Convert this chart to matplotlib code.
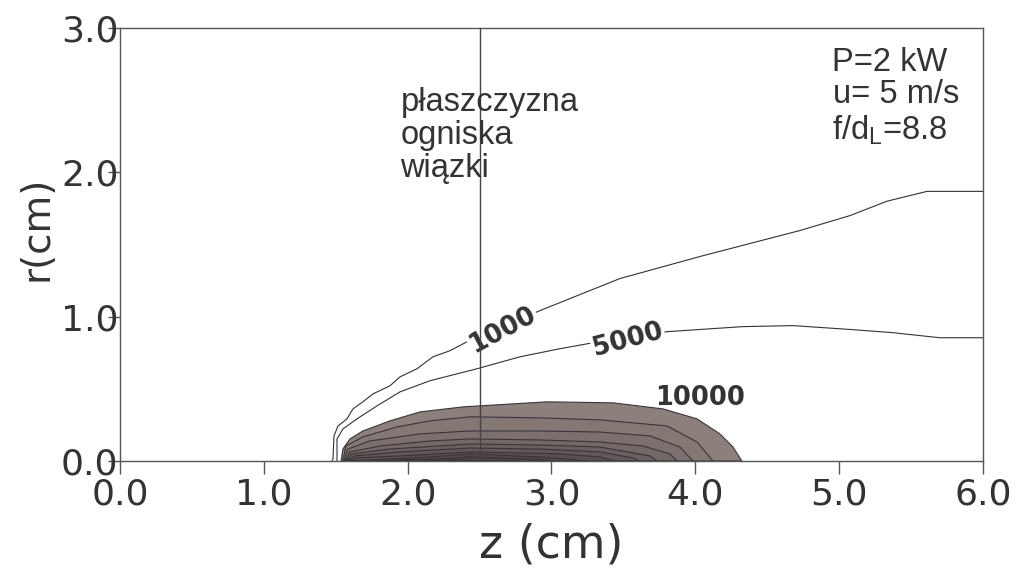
import matplotlib.pyplot as plt

plt.rcParams['font.family'] = 'DejaVu Sans'

# kontury temperatury (z, r) w cm
z_1000 = [1.474, 1.481, 1.488, 1.516, 1.578, 1.620, 1.689, 1.759, 1.877, 1.947, 2.065,
          2.176, 2.294, 2.413, 2.920, 3.476, 4.033, 4.728, 5.075, 5.333, 5.611, 6.0]
r_1000 = [0.0, 0.014, 0.174, 0.243, 0.292, 0.361, 0.410, 0.465, 0.521, 0.583, 0.639,
          0.722, 0.764, 0.826, 1.042, 1.264, 1.417, 1.597, 1.700, 1.800, 1.868, 1.868]

z_5000 = [1.509, 1.509, 1.550, 1.648, 1.787, 1.947, 2.155, 2.482, 2.781, 3.059, 3.254,
          3.803, 4.331, 4.679, 5.096, 5.374, 5.701, 6.0]
r_5000 = [0.0, 0.153, 0.222, 0.292, 0.382, 0.479, 0.556, 0.639, 0.722, 0.778, 0.813,
          0.896, 0.931, 0.938, 0.910, 0.889, 0.854, 0.854]

# obszar > 10000, kolejne poziomy od zewnatrz do srodka
z_levels = [
    [1.537, 1.550, 1.599, 1.689, 1.877, 2.086, 2.385, 2.969, 3.428, 3.775, 4.012, 4.171, 4.262, 4.324],
    [1.550, 1.571, 1.689, 1.926, 2.155, 2.433, 2.920, 3.337, 3.803, 4.012, 4.123],
    [1.557, 1.585, 1.738, 2.086, 2.433, 2.920, 3.337, 3.685, 3.893, 3.984],
    [1.564, 1.599, 1.808, 2.155, 2.433, 2.920, 3.337, 3.636, 3.824, 3.873],
    [1.571, 1.613, 1.877, 2.433, 2.920, 3.337, 3.685, 3.734],
    [1.578, 1.627, 1.947, 2.433, 2.920, 3.337, 3.567, 3.615],
    [1.585, 1.641, 2.086, 2.433, 3.059, 3.337, 3.442],
    [1.592, 2.155, 2.433, 2.920, 3.268],
    [1.599, 2.225, 2.433, 2.851, 3.059],
    [1.613, 2.294, 2.781],
]
r_levels = [
    [0.0, 0.083, 0.153, 0.208, 0.278, 0.340, 0.375, 0.410, 0.403, 0.361, 0.292, 0.188, 0.097, 0.0],
    [0.0, 0.104, 0.167, 0.236, 0.278, 0.306, 0.299, 0.285, 0.243, 0.132, 0.0],
    [0.0, 0.083, 0.139, 0.188, 0.208, 0.208, 0.201, 0.174, 0.097, 0.0],
    [0.0, 0.063, 0.104, 0.139, 0.153, 0.146, 0.132, 0.104, 0.049, 0.0],
    [0.0, 0.049, 0.083, 0.118, 0.111, 0.097, 0.035, 0.0],
    [0.0, 0.035, 0.063, 0.090, 0.083, 0.063, 0.021, 0.0],
    [0.0, 0.021, 0.042, 0.063, 0.049, 0.028, 0.0],
    [0.0, 0.028, 0.049, 0.028, 0.0],
    [0.0, 0.014, 0.028, 0.014, 0.0],
    [0.0, 0.007, 0.0],
]
fill_colors = ['#8c807d', '#847875', '#7c706e', '#736867', '#6b605f',
               '#635859', '#5a5052', '#52494b', '#4a4245', '#423b3e']

z_focus = 2.5
ticks = [0.0, 1.0, 2.0, 3.0, 4.0, 5.0, 6.0]
rticks = [0.0, 1.0, 2.0, 3.0]

txt = '#333333'
fig = plt.figure(figsize=(10.2, 5.78), dpi=100)
ax = fig.add_axes([0.1176, 0.2024, 0.8461, 0.7492])

for zs, rs, c in zip(z_levels, r_levels, fill_colors):
    ax.fill(zs, rs, facecolor=c, edgecolor='#3a3436', lw=0.8, zorder=1)

ax.plot(z_1000, r_1000, color='#333333', lw=0.8, zorder=2)
ax.plot(z_5000, r_5000, color='#333333', lw=0.8, zorder=2)

lab = dict(fontsize=18.5, fontweight='bold', color=txt, ha='center', va='center', zorder=3)
ax.text(2.663, 0.908, '1000', rotation=28,
        bbox=dict(facecolor='white', edgecolor='none', pad=1), **lab)
ax.text(3.532, 0.838, '5000', rotation=15,
        bbox=dict(facecolor='white', edgecolor='none', pad=1), **lab)
ax.text(4.033, 0.437, '10000', **lab)

ax.axvline(z_focus, color='#444444', lw=1.0, zorder=4)

sans = 'Liberation Sans'
ax.text(1.95, 2.59, 'płaszczyzna\nogniska\nwiązki', family=sans, fontsize=23.5,
        color=txt, va='top', ha='left', linespacing=1.08, zorder=5)
ax.text(4.95, 2.70, 'P=2 kW', family=sans, fontsize=23.5, color=txt, ha='left', va='baseline')
ax.text(4.96, 2.48, 'u= 5 m/s', family=sans, fontsize=23.5, color=txt, ha='left', va='baseline')
plt.rcParams['mathtext.fontset'] = 'custom'
plt.rcParams['mathtext.rm'] = sans
ax.text(4.95, 2.23, r'f/d$_\mathrm{L}$=8.8', family=sans, fontsize=23.5, color=txt,
        ha='left', va='baseline')

ax.set_xlim(0, 6)
ax.set_ylim(0, 3)
ax.set_xticks(ticks)
ax.set_xticklabels([f'{t:.1f}' for t in ticks])
ax.set_yticks(rticks)
ax.set_yticklabels([f'{t:.1f}' for t in rticks])
ax.tick_params(axis='x', direction='out', length=9, width=1, color='#555555',
               labelsize=26, labelcolor=txt, pad=3)
ax.tick_params(axis='y', direction='out', length=9, width=1, color='#555555',
               labelsize=26, labelcolor=txt, pad=-8)
for s in ax.spines.values():
    s.set_color('#555555')
    s.set_linewidth(1.0)

fig.text(0.540, 0.057, 'z (cm)', fontsize=33, color=txt, ha='center', va='center')
fig.text(0.036, 0.605, 'r(cm)', fontsize=28, color=txt, ha='center', va='center',
         rotation=90)

fig.savefig('out.png', dpi=100)
